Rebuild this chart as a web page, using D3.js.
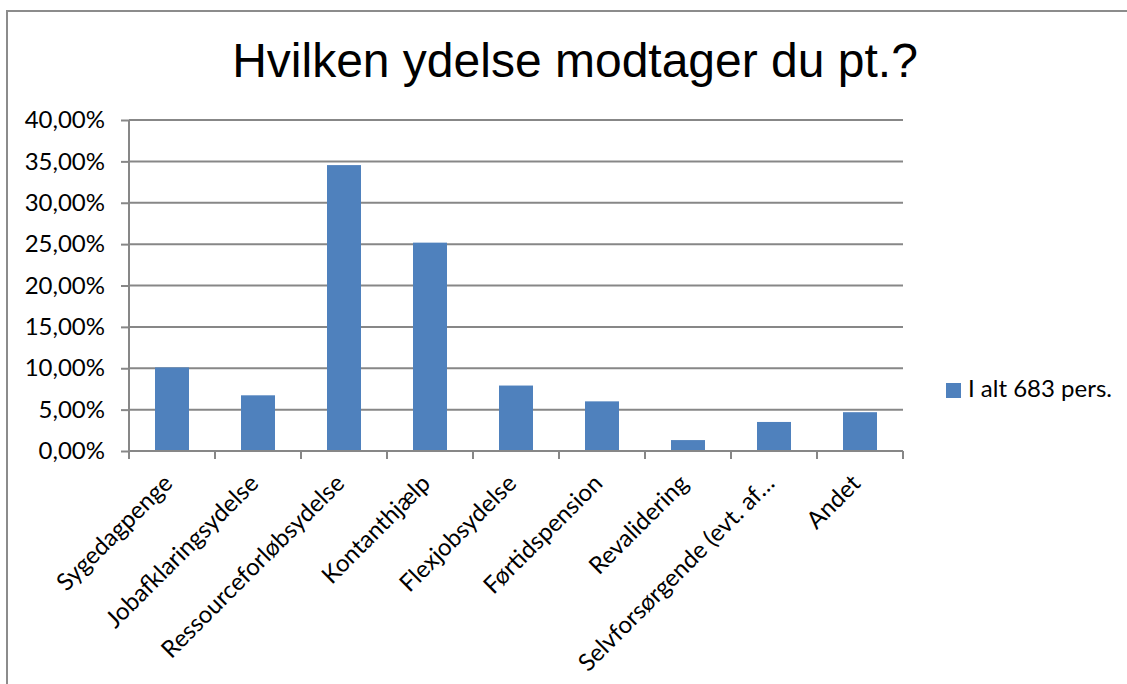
<!DOCTYPE html>
<html>
<head>
<meta charset="utf-8">
<script src="https://cdn.jsdelivr.net/npm/d3@7"></script>
<style>
html,body{margin:0;padding:0;background:#fff;}
svg{display:block;}
</style>
</head>
<body>
<svg id="chart" width="1127" height="684"></svg>
<script>
const categories = ["Sygedagpenge","Jobafklaringsydelse","Ressourceforløbsydelse","Kontanthjælp","Flexjobsydelse","Førtidspension","Revalidering","Selvforsørgende (evt. af…","Andet"];
const values = [10.10, 6.73, 34.55, 25.18, 7.91, 6.00, 1.32, 3.51, 4.69];
const yTicks = [0,5,10,15,20,25,30,35,40];
const seriesName = "I alt 683 pers.";
const title = "Hvilken ydelse modtager du pt.?";

(function(){
const svg = d3.select("#chart");
const labelFont = "Lato, 'Open Sans', sans-serif";
const gridColor = "#878787";
const fs = 24;

// outer border
svg.append("rect").attr("x",7).attr("y",11).attr("width",1140).attr("height",700)
  .attr("fill","none").attr("stroke","#8c8c8c").attr("stroke-width",2);

const pLeft = 129, pRight = 903, pTop = 120, pBottom = 451;
const x = d3.scaleBand().domain(categories).range([pLeft, pRight]).paddingInner(0).paddingOuter(0);
const y = d3.scaleLinear().domain([0,40]).range([pBottom, pTop]);

svg.append("text").attr("x",575).attr("y",77).attr("text-anchor","middle")
  .attr("font-family","'Liberation Sans', Arial, sans-serif").attr("font-size",48).attr("fill","#000")
  .text(title);

// gridlines
svg.append("g").selectAll("line").data(yTicks.filter(d=>d>0)).join("line")
  .attr("x1",pLeft).attr("x2",pRight).attr("y1",d=>y(d)).attr("y2",d=>y(d))
  .attr("stroke",gridColor).attr("stroke-width",2);

// y axis
const yAxis = svg.append("g").attr("transform",`translate(${pLeft},0)`)
  .call(d3.axisLeft(y).tickValues(yTicks).tickSize(8).tickPadding(16)
    .tickFormat(d=>d3.format(".2f")(d).replace(".",",")+"%"));
yAxis.select(".domain").attr("stroke",gridColor).attr("stroke-width",2).attr("d",`M0,${pTop}V${pBottom}`);
yAxis.selectAll(".tick line").attr("stroke",gridColor).attr("stroke-width",2);
yAxis.selectAll("text").attr("font-family",labelFont).attr("font-size",fs).attr("fill","#000");

// bars
const bw = 34;
svg.append("g").selectAll("rect").data(values).join("rect")
  .attr("x",(d,i)=>x(categories[i])+x.bandwidth()/2-bw/2)
  .attr("width",bw)
  .attr("y",d=>y(d)).attr("height",d=>pBottom-y(d))
  .attr("fill","#4f81bd");

// x axis
const xAxis = svg.append("g").attr("transform",`translate(0,${pBottom})`);
xAxis.append("line").attr("x1",pLeft).attr("x2",pRight).attr("y1",0).attr("y2",0)
  .attr("stroke",gridColor).attr("stroke-width",2);
const edges = categories.map(c=>x(c)).concat([pRight]);
xAxis.selectAll("line.t").data(edges).join("line").attr("class","t")
  .attr("x1",d=>d).attr("x2",d=>d).attr("y1",0).attr("y2",8)
  .attr("stroke",gridColor).attr("stroke-width",2);
xAxis.selectAll("text").data(categories).join("text")
  .attr("transform",d=>`translate(${x(d)+x.bandwidth()/2-10},${22}) rotate(-45)`)
  .attr("text-anchor","end").attr("dy","0.7em")
  .attr("font-family",labelFont).attr("font-size",fs).attr("fill","#000")
  .text(d=>d);

// legend
const lg = svg.append("g").attr("transform","translate(946,383)");
lg.append("rect").attr("width",15).attr("height",15).attr("fill","#4f81bd");
lg.append("text").attr("x",22).attr("y",14).attr("font-family",labelFont).attr("font-size",fs).attr("fill","#000").text(seriesName);
})();
</script>
</body>
</html>
